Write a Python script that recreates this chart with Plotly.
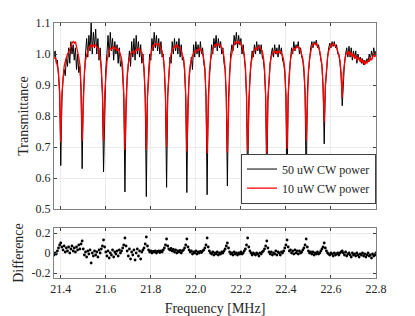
import plotly.graph_objects as go

# Frequency sweep: uniform sampling grid (MHz)
freq_start = 21.370
freq_step = 0.005

# Transmittance, 50 uW CW power (black)
trans_50uW = [
    0.99, 1.01, 0.97, 0.98, 0.93, 0.88, 0.64,
    0.85, 0.92, 0.95, 0.93, 0.99, 0.96, 1.02, 0.97, 1.04, 1.0, 1.03, 0.98, 1.02, 0.95, 1.0, 0.94, 0.96, 0.88, 0.63,
    0.86, 0.95, 1.0, 1.05, 0.99, 1.06, 1.01, 1.1, 1.0, 1.07, 1.02, 1.08, 1.0, 1.05, 0.98, 1.02, 0.95, 0.87, 0.62,
    0.86, 0.95, 1.0, 1.06, 0.99, 1.07, 1.01, 1.05, 0.98, 1.04, 1.0, 1.03, 0.97, 1.02, 0.96, 0.98, 0.93, 0.86, 0.555,
    0.85, 0.92, 0.96, 1.01, 0.96, 1.04, 0.99, 1.05, 0.98, 1.06, 1.0, 1.04, 0.99, 1.03, 0.97, 1.0, 0.94, 0.86, 0.54,
    0.86, 0.94, 1.0, 0.98, 1.05, 1.01, 1.07, 1.02, 1.06, 1.01, 1.05, 1.0, 1.04, 0.99, 1.0, 0.95, 0.86, 0.57,
    0.86, 0.93, 0.99, 0.97, 1.04, 1.0, 1.05, 1.01, 1.04, 1.0, 1.05, 0.99, 1.03, 0.98, 0.99, 0.94, 0.86, 0.553,
    0.85, 0.92, 0.96, 0.99, 0.95, 1.03, 0.99, 1.04, 1.0, 1.03, 0.99, 1.04, 1.0, 1.02, 0.97, 0.95, 0.86, 0.546,
    0.86, 0.93, 0.99, 1.03, 1.0, 1.05, 1.02, 1.06, 1.01, 1.05, 1.02, 1.04, 1.0, 1.02, 0.97, 0.95, 0.86, 0.574,
    0.86, 0.94, 1.0, 1.03, 1.01, 1.06, 1.03, 1.07, 1.02, 1.06, 1.03, 1.05, 1.0, 1.03, 0.98, 0.95, 0.86, 0.553,
    0.85, 0.93, 0.97, 1.01, 0.99, 1.03, 1.0, 1.04, 1.01, 1.03, 1.0, 1.03, 0.99, 0.98, 0.94, 0.86, 0.55,
    0.85, 0.93, 0.97, 1.0, 1.02, 0.99, 1.03, 1.0, 1.02, 0.99, 1.03, 1.0, 1.02, 0.98, 0.97, 0.94, 0.86, 0.55,
    0.86, 0.94, 0.99, 1.02, 1.0, 1.04, 1.01, 1.03, 1.02, 1.04, 1.0, 1.02, 0.99, 0.98, 0.94, 0.87, 0.56,
    0.87, 0.94, 0.99, 1.02, 1.04, 1.02, 1.04, 1.03, 1.045, 1.02, 1.03, 1.0, 0.99, 0.96, 0.89, 0.71,
    0.89, 0.95, 0.99, 1.02, 1.035, 1.02, 1.04, 1.025, 1.04, 1.02, 1.03, 1.0, 1.0, 0.97, 0.93, 0.833,
    0.93, 0.97, 1.0, 1.02, 0.99, 1.025, 0.99, 1.02, 0.98, 1.01, 0.985, 1.01, 0.97, 1.0, 0.98,
    0.99, 0.97, 0.985, 0.965, 0.98, 0.97, 0.985, 0.975, 1.0, 0.98, 1.01, 0.99, 1.02, 0.995, 1.01,
]

# Transmittance, 10 uW CW power (red)
trans_10uW = [
    0.985, 0.99, 0.98, 0.965, 0.94, 0.87, 0.715,
    0.87, 0.93, 0.96, 0.975, 0.99, 1.0, 1.005, 1.015, 1.03, 1.035, 1.04, 1.035, 1.04, 1.025, 1.01, 0.99, 0.965, 0.9, 0.72,
    0.87, 0.94, 0.98, 1.0, 1.01, 1.02, 1.025, 1.03, 1.02, 1.03, 1.025, 1.03, 1.02, 1.02, 1.01, 0.99, 0.96, 0.88, 0.72,
    0.87, 0.94, 0.975, 0.995, 1.01, 1.02, 1.015, 1.02, 1.025, 1.015, 1.02, 1.01, 1.015, 1.01, 1.0, 0.985, 0.955, 0.87, 0.69,
    0.86, 0.93, 0.97, 0.99, 1.0, 1.005, 1.01, 1.0, 1.01, 1.015, 1.01, 1.02, 1.015, 1.01, 1.005, 0.985, 0.955, 0.87, 0.69,
    0.86, 0.935, 0.975, 1.0, 1.015, 1.03, 1.025, 1.035, 1.03, 1.03, 1.035, 1.025, 1.02, 1.01, 0.99, 0.955, 0.87, 0.70,
    0.87, 0.94, 0.98, 1.0, 1.015, 1.02, 1.025, 1.02, 1.03, 1.025, 1.02, 1.02, 1.01, 1.0, 0.985, 0.955, 0.87, 0.685,
    0.86, 0.93, 0.965, 0.985, 0.995, 1.0, 1.01, 1.005, 1.015, 1.01, 1.02, 1.015, 1.01, 1.0, 0.985, 0.955, 0.87, 0.68,
    0.87, 0.94, 0.98, 1.0, 1.015, 1.025, 1.03, 1.025, 1.035, 1.03, 1.03, 1.025, 1.02, 1.01, 0.99, 0.955, 0.87, 0.682,
    0.87, 0.94, 0.985, 1.005, 1.02, 1.03, 1.04, 1.035, 1.04, 1.035, 1.04, 1.03, 1.025, 1.015, 0.995, 0.96, 0.87, 0.688,
    0.86, 0.93, 0.97, 0.99, 1.005, 1.01, 1.02, 1.015, 1.02, 1.025, 1.02, 1.015, 1.01, 0.99, 0.955, 0.87, 0.68,
    0.86, 0.93, 0.97, 0.99, 1.0, 1.01, 1.005, 1.01, 1.0, 1.01, 1.005, 1.01, 1.0, 0.995, 0.98, 0.95, 0.87, 0.694,
    0.87, 0.94, 0.98, 1.0, 1.01, 1.02, 1.015, 1.02, 1.025, 1.02, 1.02, 1.01, 1.0, 0.985, 0.955, 0.88, 0.72,
    0.88, 0.945, 0.985, 1.01, 1.025, 1.03, 1.035, 1.03, 1.035, 1.025, 1.02, 1.01, 0.99, 0.965, 0.9, 0.78,
    0.9, 0.955, 0.99, 1.01, 1.025, 1.03, 1.025, 1.035, 1.03, 1.025, 1.02, 1.01, 0.995, 0.98, 0.94, 0.86,
    0.94, 0.975, 0.995, 1.005, 1.0, 1.01, 0.995, 1.005, 0.99, 1.0, 0.985, 0.995, 0.98, 0.99, 0.985,
    0.975, 0.985, 0.97, 0.98, 0.965, 0.975, 0.97, 0.98, 0.975, 0.99, 0.98, 0.995, 1.0, 0.99, 1.005,
]

# Difference between the two spectra
difference = [
    -0.02, 0.0, -0.01, 0.02, 0.05, 0.08, 0.1,
    0.06, 0.03, 0.07, 0.01, 0.05, 0.02, 0.06, 0.0, 0.04, 0.07, 0.02, 0.05, 0.01, 0.06, 0.03, 0.08, 0.04, 0.09, 0.12,
    0.04, -0.02, 0.01, -0.04, 0.02, -0.01, 0.03, -0.1, 0.0, -0.03, 0.02, -0.02, 0.01, -0.04, 0.03, 0.0, 0.04, 0.07, 0.13,
    0.06, 0.01, -0.03, 0.02, -0.05, 0.0, -0.02, 0.03, -0.04, 0.01, -0.01, 0.02, -0.03, 0.03, 0.0, 0.02, 0.05, 0.08, 0.15,
    0.07, 0.02, -0.03, 0.04, -0.06, 0.01, -0.02, 0.03, -0.07, 0.0, 0.04, -0.03, 0.02, -0.06, 0.01, 0.03, 0.05, 0.09, 0.16,
    0.07, 0.03, 0.01, 0.02, 0.0, 0.015, 0.01, 0.02, 0.0, 0.015, 0.02, 0.005, 0.02, 0.01, 0.03, 0.05, 0.08, 0.14,
    0.07, 0.04, 0.03, 0.045, 0.02, 0.035, 0.01, 0.03, 0.0, 0.02, 0.01, 0.025, 0.0, 0.02, 0.03, 0.05, 0.08, 0.14,
    0.06, 0.03, 0.01, 0.02, -0.01, 0.01, 0.0, 0.02, -0.01, 0.01, 0.0, 0.015, 0.005, 0.02, 0.03, 0.05, 0.08, 0.15,
    0.06, 0.02, 0.0, -0.01, 0.01, -0.02, 0.0, -0.01, 0.01, -0.02, 0.0, -0.01, 0.01, 0.0, 0.02, 0.04, 0.07, 0.1,
    0.05, 0.01, -0.01, 0.0, -0.02, 0.01, -0.01, 0.0, -0.02, 0.0, -0.01, 0.01, -0.01, 0.0, 0.02, 0.04, 0.08, 0.15,
    0.06, 0.02, 0.0, -0.02, 0.0, -0.01, -0.02, 0.0, -0.01, -0.03, 0.0, -0.01, 0.01, 0.02, 0.04, 0.07, 0.12,
    0.05, 0.01, -0.01, 0.01, -0.02, 0.0, -0.01, 0.02, -0.02, 0.01, 0.0, -0.02, 0.01, 0.0, 0.02, 0.05, 0.08, 0.13,
    0.06, 0.02, 0.03, 0.0, 0.02, -0.01, 0.03, 0.0, 0.02, -0.01, 0.02, 0.0, 0.01, 0.03, 0.05, 0.08, 0.14,
    0.06, 0.02, 0.0, 0.01, -0.01, 0.01, -0.02, 0.0, -0.01, 0.01, -0.01, 0.0, 0.02, 0.04, 0.06, 0.1,
    0.05, 0.02, 0.0, -0.01, -0.02, 0.0, -0.01, -0.03, 0.0, -0.02, -0.01, 0.0, -0.02, 0.0, 0.01, 0.02,
    0.0, -0.02, 0.01, -0.03, -0.01, 0.0, -0.02, -0.04, 0.0, -0.02, -0.01, -0.03, 0.0, -0.02, -0.04,
    -0.01, -0.02, 0.0, -0.03, -0.01, -0.04, -0.02, 0.0, -0.03, -0.02, -0.05, -0.01, -0.03, -0.02, 0.0,
]

assert len(trans_50uW) == len(trans_10uW) == len(difference), (
    len(trans_50uW), len(trans_10uW), len(difference))

freq = [round(freq_start + freq_step * i, 4) for i in range(len(trans_50uW))]

x_ticks = [21.4, 21.6, 21.8, 22.0, 22.2, 22.4, 22.6, 22.8]
x_tick_text = ["21.4", "21.6", "21.8", "22.0", "22.2", "22.4", "22.6", "22.8"]
y_ticks_top = [0.5, 0.6, 0.7, 0.8, 0.9, 1.0, 1.1]
y_tick_text_top = ["0.5", "0.6", "0.7", "0.8", "0.9", "1.0", "1.1"]
y_ticks_bottom = [-0.2, 0, 0.2]
y_tick_text_bottom = ["-0.2", "0", "0.2"]

SERIF = "Liberation Serif, DejaVu Serif, serif"
TXT = "#262626"

fig = go.Figure()
fig.add_trace(go.Scatter(x=freq, y=trans_50uW, mode="lines", name="50 uW CW power",
                         line=dict(color="black", width=1), xaxis="x", yaxis="y"))
fig.add_trace(go.Scatter(x=freq, y=trans_10uW, mode="lines", name="10 uW CW power",
                         line=dict(color="#ff0000", width=1.3), xaxis="x", yaxis="y"))
fig.add_trace(go.Scatter(x=freq, y=difference, mode="markers", showlegend=False,
                         marker=dict(color="black", size=2.8), xaxis="x2", yaxis="y2"))

axis_common = dict(showline=True, linecolor="#808080", linewidth=1, mirror="ticks",
                   ticks="inside", ticklen=3, tickcolor="#404040", tickwidth=1,
                   showgrid=True, gridcolor="#ebebeb", gridwidth=1, zeroline=False,
                   tickfont=dict(family=SERIF, size=12, color=TXT))

# page body has an 8 px margin, so the figure is offset by (8, 8)
fig.update_layout(
    width=407, height=308,
    paper_bgcolor="white", plot_bgcolor="white",
    margin=dict(l=46, r=39, t=15, b=38, autoexpand=False),
    font=dict(family=SERIF, color=TXT),
    xaxis=dict(axis_common, domain=[0, 1], range=[21.37, 22.8], tickvals=x_ticks,
               showticklabels=False, anchor="y"),
    yaxis=dict(axis_common, domain=[0.2706, 1], range=[0.5, 1.1], tickvals=y_ticks_top,
               ticktext=y_tick_text_top,
               title=dict(text="Transmittance", font=dict(family=SERIF, size=14, color=TXT), standoff=3),
               anchor="x"),
    xaxis2=dict(axis_common, domain=[0, 1], range=[21.37, 22.8], tickvals=x_ticks,
                ticktext=x_tick_text, anchor="y2",
                title=dict(text="Frequency [MHz]", font=dict(family=SERIF, size=14, color=TXT), standoff=7)),
    yaxis2=dict(axis_common, domain=[0, 0.196], range=[-0.25, 0.25], tickvals=y_ticks_bottom,
                ticktext=y_tick_text_bottom, anchor="x2",
                title=dict(text="Difference", font=dict(family=SERIF, size=14, color=TXT), standoff=4),
                ),
    legend=dict(x=1, xanchor="right", y=0.292, yanchor="bottom",
                bgcolor="white", bordercolor="#404040", borderwidth=1,
                font=dict(family=SERIF, size=12, color=TXT),
                tracegroupgap=0, itemwidth=30),
    showlegend=True,
)

fig.write_html("out.html")
